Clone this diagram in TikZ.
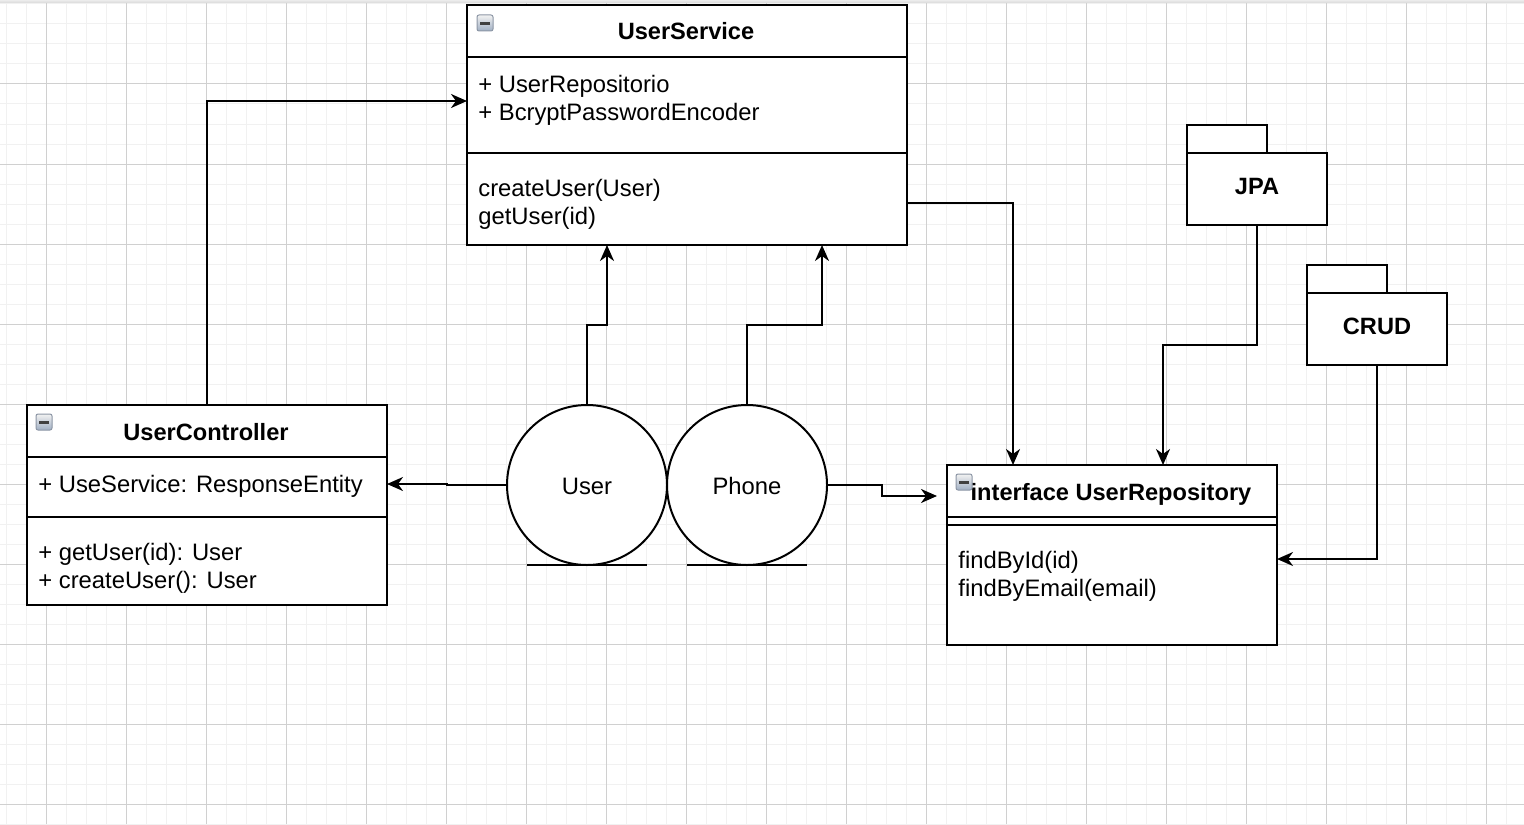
\documentclass[tikz,border=0pt]{standalone}
\usepackage{fontspec}
\setmainfont{Liberation Sans}
\usetikzlibrary{arrows.meta}
\begin{document}
\begin{tikzpicture}[x=0.5pt,y=-0.5pt,
  every node/.style={font=\fontsize{11.9}{14}\selectfont},
  minorgrid/.style={draw={rgb,255:red,241;green,241;blue,241},line width=0.5pt},
  majorgrid/.style={draw={rgb,255:red,208;green,208;blue,208},line width=0.5pt},
  umlbox/.style={draw,fill=white,line width=1pt,inner sep=0pt,outer sep=0pt,anchor=north west},
  pkgbox/.style={draw,fill=white,line width=1pt,inner sep=0pt,outer sep=0pt,anchor=north west},
  divider/.style={line width=1pt},
  txt/.style={anchor=base west,inner sep=0pt},
  ttl/.style={anchor=base,inner sep=0pt,font=\fontsize{11.8}{14}\selectfont\bfseries},
  actor/.style={circle,draw,fill=white,line width=1pt,minimum size=80pt,inner sep=0pt},
  lbl/.style={anchor=base,inner sep=0pt},
  conn/.style={line width=1pt,-{Stealth[length=8pt,width=7pt,inset=2.5pt]}},
  plain/.style={line width=1pt},
]
\useasboundingbox (0,0) rectangle (1524,824);
\fill[white] (0,0) rectangle (1524,824);
% grid
\foreach \x in {6,26,...,1524} \draw[minorgrid] (\x,0) -- (\x,824);
\foreach \y in {4,24,...,824} \draw[minorgrid] (0,\y) -- (1524,\y);
\foreach \x in {46,126,...,1524} \draw[majorgrid] (\x,0) -- (\x,824);
\foreach \y in {84,164,...,824} \draw[majorgrid] (0,\y) -- (1524,\y);
\fill[top color=gray!15,bottom color=gray!30] (0,0) rectangle (1524,3);

% UserService
\node[umlbox,minimum width=220pt,minimum height=120pt] (us) at (467,5) {};
\draw[divider] (467,57) -- (907,57);
\draw[divider] (467,153) -- (907,153);
\node[ttl] (ust) at (686,40) {UserService};
\node[txt] (usa1) at (478,92) {+ UserRepositorio};
\node[txt] (usa2) at (478,120) {+ BcryptPasswordEncoder};
\node[txt] (usm1) at (478,196) {createUser(User)};
\node[txt] (usm2) at (478,224) {getUser(id)};

% UserController
\node[umlbox,minimum width=180pt,minimum height=100pt] (uc) at (27,405) {};
\draw[divider] (27,457) -- (387,457);
\draw[divider] (27,517) -- (387,517);
\node[ttl] (uct) at (206,440) {UserController};
\node[txt] (uca1) at (38,492) {+ UseService: ResponseEntity};
\node[txt] (ucm1) at (38,560) {+ getUser(id): User};
\node[txt] (ucm2) at (38,588) {+ createUser(): User};

% UserRepository
\node[umlbox,minimum width=165pt,minimum height=90pt] (ur) at (947,465) {};
\draw[divider] (947,517) -- (1277,517);
\draw[divider] (947,525) -- (1277,525);
\node[ttl] (urt) at (1111,500) {interface UserRepository};
\node[txt] (urm1) at (958,568) {findById(id)};
\node[txt] (urm2) at (958,596) {findByEmail(email)};

% collapse icons
\foreach \ix/\iy in {477/15,36/414,956/474}{
  \shade[top color=gray!10,bottom color={rgb,255:red,160;green,175;blue,195},draw={rgb,255:red,140;green,150;blue,165},line width=0.5pt,rounded corners=1pt]
    (\ix,\iy) rectangle ++(16,16);
  \fill[black!75] (\ix+3,\iy+7) rectangle ++(10,3);
}

% packages
\draw[plain,fill=white] (1187,125) rectangle (1267,153);
\node[pkgbox,minimum width=70pt,minimum height=36pt] (jpa) at (1187,153) {};
\node[ttl] (jpat) at (1257,194) {JPA};
\draw[plain,fill=white] (1307,265) rectangle (1387,293);
\node[pkgbox,minimum width=70pt,minimum height=36pt] (crud) at (1307,293) {};
\node[ttl] (crudt) at (1377,334) {CRUD};

% actors
\node[actor] (user) at (587,485) {};
\node[actor] (phone) at (747,485) {};
\node[lbl] (usert) at (587,494) {User};
\node[lbl] (phonet) at (747,494) {Phone};
\draw[plain] (527,565) -- (647,565);
\draw[plain] (687,565) -- (807,565);

% connector ports
\coordinate (usL) at (467,101);
\coordinate (usB1) at (607,245);
\coordinate (usB2) at (822,245);
\coordinate (usR) at (907,203);
\coordinate (urT1) at (1013,465);
\coordinate (urT2) at (1163,465);
\coordinate (ucR) at (387,484);
\coordinate (urL) at (937,496);
\coordinate (urR) at (1277,559);

% connectors
\draw[conn] (uc.north) |- (usL);
\draw[conn] (user.north) -- (587,325) -| (usB1);
\draw[conn] (phone.north) -- (747,325) -| (usB2);
\draw[conn] (usR) -| (urT1);
\draw[conn] (user.west) -- (447,485) -- (447,484) -- (ucR);
\draw[conn] (phone.east) -- (882,485) -- (882,496) -- (urL);
\draw[conn] (jpa.south) -- (1257,345) -| (urT2);
\draw[conn] (crud.south) |- (urR);
\end{tikzpicture}
\end{document}
